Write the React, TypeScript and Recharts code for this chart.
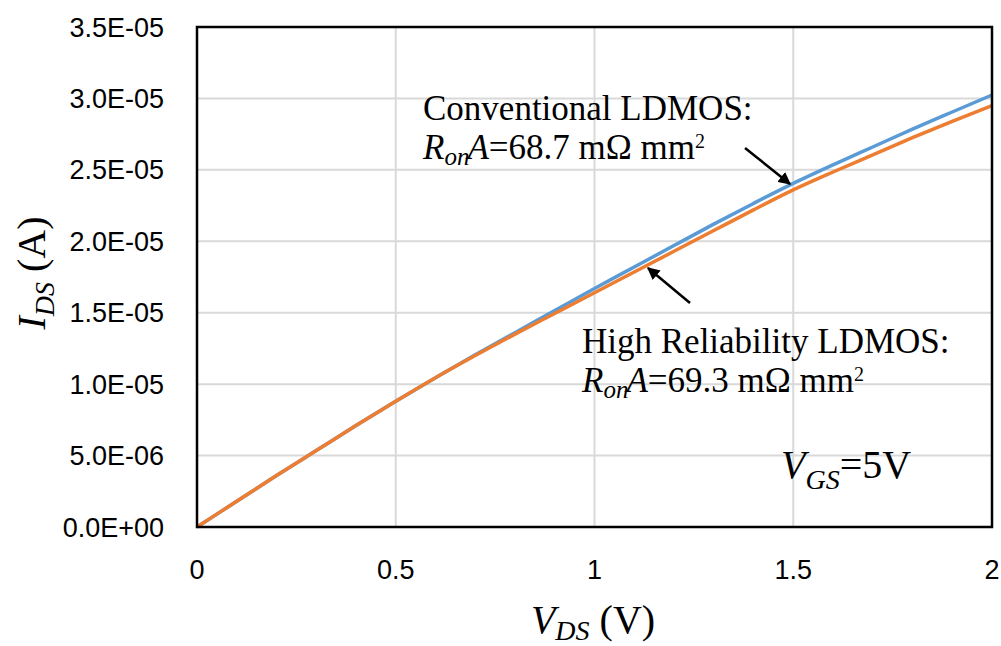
import { LineChart, Line, XAxis, YAxis, CartesianGrid } from 'recharts';

// V_DS sweep (V)
const vds = [0, 0.1, 0.2, 0.3, 0.4, 0.5, 0.6, 0.7, 0.8, 0.9, 1.0, 1.1, 1.2, 1.3, 1.4, 1.5, 1.6, 1.7, 1.8, 1.9, 2.0];

// I_DS (A)
const convIds = [
  0, 0.18e-5, 0.36e-5, 0.535e-5, 0.71e-5, 0.88e-5, 1.045e-5, 1.205e-5, 1.36e-5, 1.515e-5, 1.67e-5,
  1.82e-5, 1.97e-5, 2.12e-5, 2.265e-5, 2.405e-5, 2.535e-5, 2.66e-5, 2.785e-5, 2.905e-5, 3.024e-5,
];
const hrIds = [
  0, 0.18e-5, 0.36e-5, 0.535e-5, 0.71e-5, 0.88e-5, 1.045e-5, 1.2e-5, 1.35e-5, 1.495e-5, 1.64e-5,
  1.785e-5, 1.93e-5, 2.075e-5, 2.22e-5, 2.36e-5, 2.485e-5, 2.605e-5, 2.725e-5, 2.84e-5, 2.95e-5,
];

const xTicks = [0, 0.5, 1, 1.5, 2];
const yTicks = [0, 0.5e-5, 1.0e-5, 1.5e-5, 2.0e-5, 2.5e-5, 3.0e-5, 3.5e-5];

const data = vds.map((v, i) => ({ vds: v, conv: convIds[i], hr: hrIds[i] }));

const fmtSci = (v: number) => {
  if (v === 0) return '0.0E+00';
  const [m, e] = v.toExponential(1).split('e');
  const n = parseInt(e, 10);
  return `${m}E${n < 0 ? '-' : '+'}${String(Math.abs(n)).padStart(2, '0')}`;
};

const tickFont = { fill: '#000', fontSize: 27, fontFamily: '"Liberation Sans Narrow", "Liberation Sans", Arial, sans-serif' };
const serif = '"Liberation Serif", "Times New Roman", serif';

const W = 1001;
const H = 646;

export default function App() {
  return (
    <div style={{ position: 'absolute', left: 0, top: 0, width: W, height: H, background: '#fff' }}>
      <LineChart width={W} height={H} data={data} margin={{ top: 27, right: 9, left: 77, bottom: 59 }}>
        <CartesianGrid stroke="#d9d9d9" strokeWidth={2} />
        <XAxis
          dataKey="vds" type="number" domain={[0, 2]} ticks={xTicks} height={60}
          axisLine={false} tickLine={false} tickMargin={27} tick={tickFont}
        />
        <YAxis
          type="number" domain={[0, 3.5e-5]} ticks={yTicks} width={120} tickFormatter={fmtSci}
          axisLine={false} tickLine={false} tickMargin={27} tick={tickFont}
        />
        <Line type="monotone" dataKey="conv" stroke="#5b9bd5" strokeWidth={3.5} dot={false} isAnimationActive={false} />
        <Line type="monotone" dataKey="hr" stroke="#ed7d31" strokeWidth={3.5} dot={false} isAnimationActive={false} />
      </LineChart>
      <svg width={W} height={H} style={{ position: 'absolute', left: 0, top: 0, pointerEvents: 'none' }}>
        <defs>
          <marker id="arr" viewBox="0 0 10 10" refX="9" refY="5" markerWidth="5" markerHeight="5" orient="auto">
            <path d="M0,0 L10,5 L0,10 z" fill="#000" />
          </marker>
        </defs>
        <rect x={197} y={27} width={795} height={500} fill="none" stroke="#000" strokeWidth={2.5} />

        <text x={423} y={120} fontFamily={serif} fontSize={35}>Conventional LDMOS:</text>
        <text x={423} y={159} fontFamily={serif} fontSize={35}>
          <tspan fontStyle="italic">R</tspan>
          <tspan fontStyle="italic" fontSize={25} dy={6}>on</tspan>
          <tspan fontStyle="italic" dy={-6} dx={-2}>A</tspan>
          <tspan>=68.7 mΩ mm</tspan>
          <tspan fontSize={20} dy={-11}>2</tspan>
        </text>
        <line x1={745} y1={148} x2={790} y2={184} stroke="#000" strokeWidth={2.5} markerEnd="url(#arr)" />

        <text x={582} y={353} fontFamily={serif} fontSize={35}>High Reliability LDMOS:</text>
        <text x={582} y={392} fontFamily={serif} fontSize={35}>
          <tspan fontStyle="italic">R</tspan>
          <tspan fontStyle="italic" fontSize={25} dy={6}>on</tspan>
          <tspan fontStyle="italic" dy={-6} dx={-2}>A</tspan>
          <tspan>=69.3 mΩ mm</tspan>
          <tspan fontSize={20} dy={-11}>2</tspan>
        </text>
        <line x1={690} y1={303} x2={648} y2={268} stroke="#000" strokeWidth={2.5} markerEnd="url(#arr)" />

        <text x={781} y={478} fontFamily={serif} fontSize={40}>
          <tspan fontStyle="italic">V</tspan>
          <tspan fontStyle="italic" fontSize={28} dy={11}>GS</tspan>
          <tspan dy={-11}>=5V</tspan>
        </text>

        <text x={593} y={633} textAnchor="middle" fontFamily={serif} fontSize={40}>
          <tspan fontStyle="italic">V</tspan>
          <tspan fontStyle="italic" fontSize={28} dy={7}>DS</tspan>
          <tspan dy={-7}> (V)</tspan>
        </text>
        <text x={45} y={273} textAnchor="middle" fontFamily={serif} fontSize={40} transform="rotate(-90 45 273)">
          <tspan fontStyle="italic">I</tspan>
          <tspan fontStyle="italic" fontSize={28} dy={9}>DS</tspan>
          <tspan dy={-9}> (A)</tspan>
        </text>
      </svg>
    </div>
  );
}
